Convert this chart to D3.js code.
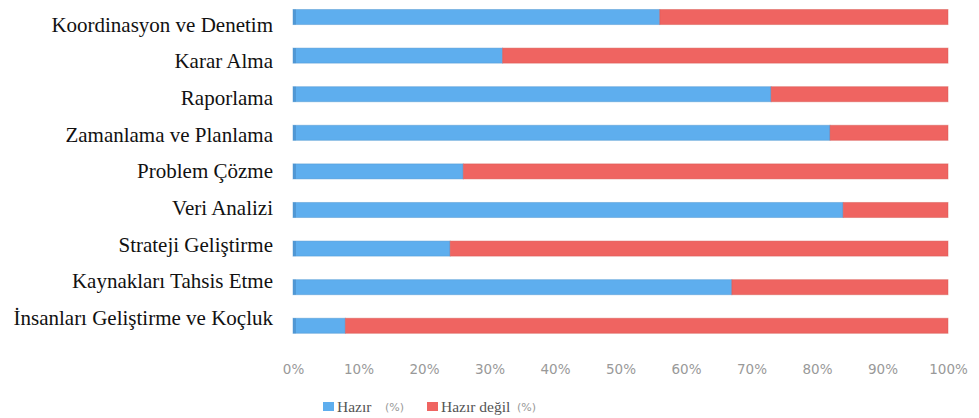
<!DOCTYPE html>
<html>
<head>
<meta charset="utf-8">
<script src="https://cdn.jsdelivr.net/npm/d3@7"></script>
<style>
  html, body { margin: 0; padding: 0; background: #fff; }
  svg { display: block; }
  .serif { font-family: "Liberation Serif", "Times New Roman", "DejaVu Serif", serif; }
  .sans { font-family: "DejaVu Sans", Verdana, sans-serif; }
</style>
</head>
<body>
<svg id="chart" width="979" height="418"></svg>
<script>
// Competency areas, top to bottom
const categories = [
  "Koordinasyon ve Denetim",
  "Karar Alma",
  "Raporlama",
  "Zamanlama ve Planlama",
  "Problem Çözme",
  "Veri Analizi",
  "Strateji Geliştirme",
  "Kaynakları Tahsis Etme",
  "İnsanları Geliştirme ve Koçluk"
];
// Share of respondents ready / not ready (%)
const hazir      = [56, 32, 73, 82, 26, 84, 24, 67, 8];
const hazirDegil = [44, 68, 27, 18, 74, 16, 76, 33, 92];
const tickValues = [0, 10, 20, 30, 40, 50, 60, 70, 80, 90, 100];
const seriesNames = ["Hazır", "Hazır değil"];
const seriesColors = ["#5eaeee", "#ef6461"];

const svg = d3.select("#chart");
const margin = { left: 293, right: 31 };
const W = 979;

const x = d3.scaleLinear().domain([0, 100]).range([margin.left, W - margin.right]);
// bar rows
const y = d3.scaleBand().domain(categories).range([9.5, 333.3]).paddingInner(0.61).paddingOuter(0);
// label rows (baselines)
const yLabel = d3.scalePoint().domain(categories).range([31.7, 325]);

const rows = categories.map((c, i) => ({ cat: c, values: [hazir[i], hazirDegil[i]] }));
const stack = d3.stack().keys([0, 1]).value((d, k) => d.values[k]);
const layers = stack(rows);

const g = svg.append("g");
layers.forEach((layer, k) => {
  g.selectAll(null)
    .data(layer)
    .join("rect")
    .attr("x", d => x(d[0]))
    .attr("width", d => x(d[1]) - x(d[0]))
    .attr("y", d => y(d.data.cat))
    .attr("height", y.bandwidth())
    .attr("fill", seriesColors[k])
    .attr("stroke", k === 0 ? "#4d94cf" : "#d5564f")
    .attr("stroke-opacity", 0.45)
    .attr("stroke-width", 1);
});
// thin darker base edge at the start of every bar
g.selectAll(null)
  .data(categories)
  .join("rect")
  .attr("x", x(0))
  .attr("width", 3)
  .attr("y", d => y(d))
  .attr("height", y.bandwidth())
  .attr("fill", "#4a8fcb")
  .attr("opacity", 0.7);

// category labels
svg.append("g")
  .selectAll("text")
  .data(categories)
  .join("text")
  .attr("class", "serif")
  .attr("x", 273)
  .attr("y", d => yLabel(d))
  .attr("text-anchor", "end")
  .style("font-size", "21px")
  .attr("fill", "#111")
  .text(d => d);

// percent axis
const xAxis = d3.axisBottom(x).tickValues(tickValues).tickFormat(d => d + "%").tickSize(0).tickPadding(0);
const ax = svg.append("g")
  .attr("transform", `translate(0,364)`)
  .call(xAxis)
  .call(a => a.select(".domain").remove());
ax.attr("font-family", null).attr("font-size", null);
ax.selectAll("text")
  .attr("class", "sans")
  .style("font-size", "13.5px")
  .attr("fill", "#999");

// legend
const legend = svg.append("g").attr("transform", "translate(323,407)");
const legendItems = [
  { name: seriesNames[0], color: seriesColors[0], x: 0, pctX: 62 },
  { name: seriesNames[1], color: seriesColors[1], x: 104, pctX: 194 }
];
legendItems.forEach(it => {
  legend.append("rect")
    .attr("x", it.x).attr("y", -5).attr("width", 11).attr("height", 9)
    .attr("fill", it.color);
  legend.append("text")
    .attr("class", "serif")
    .attr("x", it.x + 14).attr("y", 5)
    .style("font-size", "15.5px")
    .attr("fill", "#555")
    .text(it.name);
  legend.append("text")
    .attr("class", "sans")
    .attr("x", it.pctX).attr("y", 4)
    .style("font-size", "11px")
    .attr("fill", "#999")
    .text("(%)");
});
</script>
</body>
</html>
